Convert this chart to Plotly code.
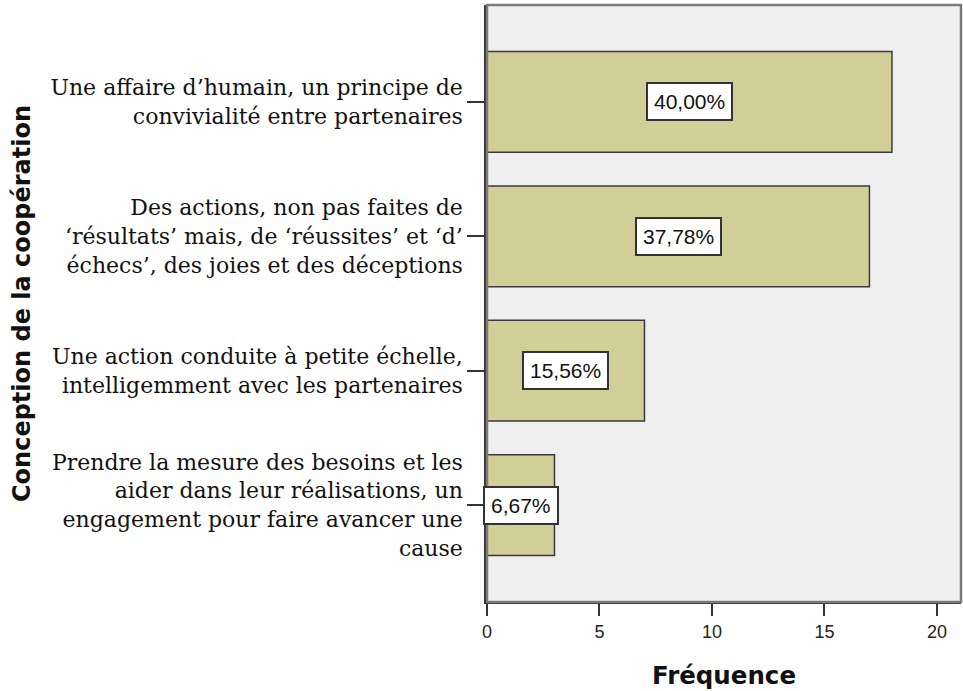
import plotly.graph_objects as go

# Categories (top to bottom), frequencies and percentage labels
categories = [
    "Une affaire d’humain, un principe de<br>convivialité entre partenaires",
    "Des actions, non pas faites de<br>‘résultats’ mais, de ‘réussites’ et ‘d’<br>échecs’, des joies et des déceptions",
    "Une action conduite à petite échelle,<br>intelligemment avec les partenaires",
    "Prendre la mesure des besoins et les<br>aider dans leur réalisations, un<br>engagement pour faire avancer une<br>cause",
]
frequencies = [18, 17, 7, 3]
percent_labels = ["40,00%", "37,78%", "15,56%", "6,67%"]
x_ticks = [0, 5, 10, 15, 20]

BAR_FILL = "#D2CE97"
BAR_EDGE = "#3A3A3A"
PLOT_BG = "#EFEFEF"

fig = go.Figure()
fig.add_trace(go.Bar(
    x=frequencies,
    y=categories,
    orientation="h",
    width=0.75,
    marker=dict(color=BAR_FILL, line=dict(color=BAR_EDGE, width=1.5)),
    hoverinfo="x+y",
))

# Percentage boxes centred on each bar
for cat, val, lab in zip(categories, frequencies, percent_labels):
    fig.add_annotation(
        x=val / 2, y=cat, xref="x", yref="y",
        text=lab, showarrow=False,
        font=dict(family="Liberation Sans, Arial, sans-serif", size=21, color="#111"),
        bgcolor="white", bordercolor="#333", borderwidth=2, borderpad=6,
    )

# Grey frame around the plot area
fig.add_shape(
    type="rect", xref="x domain", yref="y domain",
    x0=0, x1=1, y0=0, y1=1,
    line=dict(color="#7A7A7A", width=2.5), fillcolor="rgba(0,0,0,0)",
    layer="above",
)

fig.update_layout(
    width=963, height=691,
    margin=dict(l=487, r=2, t=5, b=89),
    paper_bgcolor="white",
    plot_bgcolor=PLOT_BG,
    showlegend=False,
    xaxis=dict(
        range=[0, 21.07],
        tickmode="array", tickvals=x_ticks, ticktext=[str(t) for t in x_ticks],
        ticks="outside", ticklen=12, tickwidth=2, tickcolor="#333",
        tickfont=dict(family="Liberation Sans, Arial, sans-serif", size=18, color="#222"),
        showgrid=False, zeroline=False,
        showline=True, linecolor="#333", linewidth=2,
        title=dict(text="<b>Fréquence</b>", standoff=26,
                   font=dict(family="DejaVu Sans, sans-serif", size=24.5, color="#111")),
    ),
    yaxis=dict(
        categoryorder="array", categoryarray=categories,
        range=[3.722, -0.722],
        ticks="outside", ticklen=17, tickwidth=2, tickcolor="#333",
        tickfont=dict(family="DejaVu Serif, serif", size=22, color="#111"),
        showgrid=False, zeroline=False,
        showline=True, linecolor="#333", linewidth=2.5,
        title=dict(text="<b>Conception de la coopération</b>", standoff=14,
                   font=dict(family="DejaVu Sans, sans-serif", size=24, color="#111")),
    ),
)

fig.write_html("out.html")
